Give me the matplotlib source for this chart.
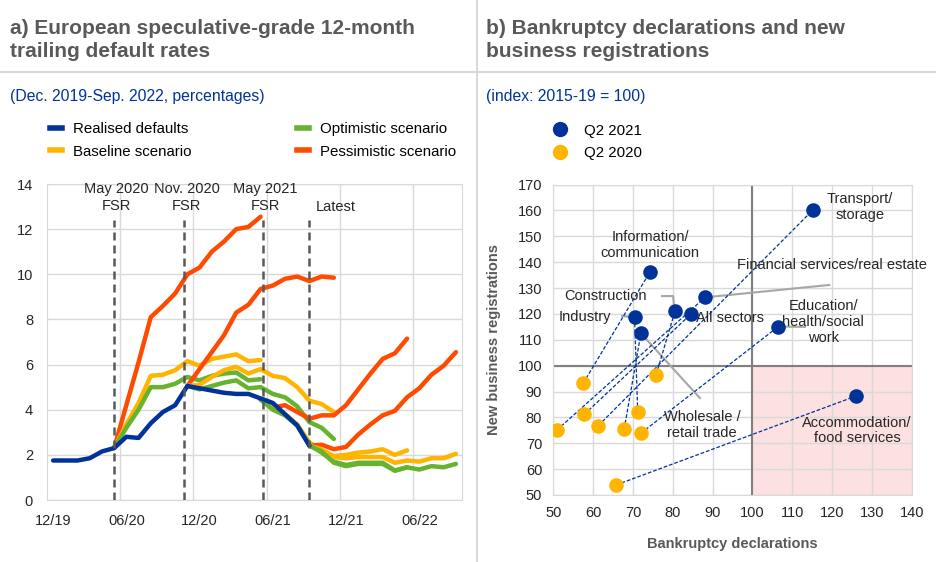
import numpy as np
import pandas as pd
import matplotlib
matplotlib.use("Agg")
import matplotlib.pyplot as plt
from matplotlib.lines import Line2D

plt.rcParams["font.family"] = ["Liberation Sans", "DejaVu Sans"]

# -------------------------------------------------------------
# DATA - panel a) default rates (percentages)
# -------------------------------------------------------------
months = pd.period_range("2019-12", "2022-09", freq="M")

realised = [1.75, 1.75, 1.75, 1.85, 2.15, 2.3, 2.8, 2.75, 3.4, 3.9, 4.2, 5.05,
            4.95, 4.85, 4.75, 4.7, 4.7, 4.5, 4.3, 3.8, 3.3, 2.4]

# projections per FSR vintage, each starting at the given month
may20_start = "2020-05"
may20_base = [2.3, 3.35, 4.3, 5.5, 5.55, 5.75, 6.15, 5.95, 6.25, 6.35, 6.45, 6.15, 6.2]
may20_opt = [2.3, 3.2, 4.0, 5.0, 5.0, 5.15, 5.45, 5.3, 5.5, 5.6, 5.65, 5.3, 5.35]
may20_pess = [2.3, 4.2, 6.1, 8.1, 8.6, 9.15, 10.0, 10.3, 11.0, 11.45, 12.0, 12.1, 12.55]

nov20_start = "2020-11"
nov20_base = [5.05, 5.1, 5.45, 5.75, 5.9, 5.6, 5.8, 5.5, 5.4, 5.0, 4.4, 4.25, 3.9]
nov20_opt = [5.05, 4.9, 5.05, 5.2, 5.3, 4.95, 5.0, 4.7, 4.55, 4.15, 3.45, 3.2, 2.7]
nov20_pess = [5.05, 5.8, 6.55, 7.3, 8.3, 8.65, 9.35, 9.5, 9.8, 9.9, 9.7, 9.9, 9.85]

may21_start = "2021-05"
may21_base = [4.45, 4.05, 3.8, 3.35, 2.55, 2.2, 1.95, 2.0, 2.1, 2.15, 2.25, 2.0, 2.2]
may21_opt = [4.45, 4.0, 3.75, 3.3, 2.45, 2.1, 1.7, 1.55, 1.65, 1.65, 1.65, 1.3, 1.45]
may21_pess = [4.45, 4.1, 4.2, 3.9, 3.6, 3.75, 3.75, 4.2, 4.9, 5.6, 6.25, 6.5, 7.15]

latest_start = "2021-09"
latest_base = [2.4, 2.25, 1.9, 1.85, 1.9, 1.9, 1.9, 1.65, 1.75, 1.7, 1.85, 1.85, 2.05]
latest_opt = [2.4, 2.15, 1.65, 1.5, 1.6, 1.6, 1.6, 1.3, 1.45, 1.35, 1.5, 1.45, 1.6]
latest_pess = [2.4, 2.45, 2.25, 2.35, 2.9, 3.35, 3.75, 3.95, 4.55, 4.95, 5.55, 5.95, 6.55]

event_months = ["2020-05", "2020-11", "2021-05", "2021-09"]
event_labels = ["May 2020\nFSR", "Nov. 2020\nFSR", "May 2021\nFSR", "Latest"]

# -------------------------------------------------------------
# DATA - panel b) index 2015-19 = 100
# -------------------------------------------------------------
sectors = ["Information/\ncommunication", "Construction", "Industry",
           "Wholesale /\nretail trade", "All sectors",
           "Financial services/real estate", "Transport/\nstorage",
           "Education/\nhealth/social\nwork", "Accommodation/\nfood services"]
bankr_q2_2021 = [74.3, 80.6, 70.4, 72.0, 84.6, 88.1, 115.2, 106.5, 126.1]
regis_q2_2021 = [136.3, 121.3, 118.7, 112.5, 120.0, 126.4, 160.2, 115.1, 88.3]
bankr_q2_2020 = [57.5, 75.8, 71.2, 67.8, 57.8, 50.9, 61.3, 72.0, 65.8]
regis_q2_2020 = [93.2, 96.4, 82.2, 75.5, 81.2, 75.1, 76.8, 73.9, 53.9]

# -------------------------------------------------------------
# STYLE
# -------------------------------------------------------------
BLUE = "#003299"
YELLOW = "#ffb400"
GREEN = "#65b32e"
ORANGE = "#ff4b00"
GRID = "#d9d9d9"
TITLE_GREY = "#595959"
TICK = "#262626"

fig = plt.figure(figsize=(9.36, 5.62), dpi=100)

# --- header: titles, separators
title_font = dict(fontsize=15, fontweight="bold", color=TITLE_GREY, va="center",
                  linespacing=1.3)
fig.text(10 / 936, 1 - 40 / 562, "a) European speculative-grade 12-month\ntrailing default rates",
         **title_font)
fig.text(486 / 936, 1 - 40 / 562, "b) Bankruptcy declarations and new\nbusiness registrations",
         **title_font)
sub_font = dict(fontsize=11.3, color=BLUE, va="center")
fig.text(10 / 936, 1 - 97 / 562, "(Dec. 2019-Sep. 2022, percentages)", **sub_font)
fig.text(486 / 936, 1 - 97 / 562, "(index: 2015-19 = 100)", **sub_font)
fig.add_artist(Line2D([0, 1], [1 - 72 / 562] * 2, color=GRID, lw=1.5))
fig.add_artist(Line2D([477 / 936] * 2, [0, 1], color=GRID, lw=1.5))

# -------------------------------------------------------------
# PANEL A
# -------------------------------------------------------------
ax = fig.add_axes([47 / 936, 1 - 500 / 562, 415 / 936, 316 / 562])
x = np.arange(len(months))
pos = {str(m): i for i, m in enumerate(months)}


def draw(values, start, color):
    i0 = pos[start]
    ax.plot(x[i0:i0 + len(values)], values, color=color, lw=3.2,
            solid_capstyle="round", solid_joinstyle="round", zorder=3)


for start, base, opt, pess in [(may20_start, may20_base, may20_opt, may20_pess),
                               (nov20_start, nov20_base, nov20_opt, nov20_pess),
                               (may21_start, may21_base, may21_opt, may21_pess),
                               (latest_start, latest_base, latest_opt, latest_pess)]:
    draw(pess, start, ORANGE)
    draw(base, start, YELLOW)
    draw(opt, start, GREEN)
ax.plot(x[:len(realised)], realised, color=BLUE, lw=3.2,
        solid_capstyle="round", solid_joinstyle="round", zorder=4)

offsets = [0, -0.25, 0.2, 0]
for m, lab, off in zip(event_months, event_labels, offsets):
    xe = pos[m] + off
    ax.vlines(xe, 0, 12.4, color="#595959", lw=1.8, linestyles=(0, (3.2, 2.0)), zorder=5)
    if lab == "Latest":
        ax.text(xe + 0.5, 13.0, lab, ha="left", va="center", fontsize=10.5, color=TICK)
    else:
        ax.text(xe + 0.2, 13.4, lab, ha="center", va="center", fontsize=10.5,
                color=TICK, linespacing=1.35)

ax.set_xlim(-0.5, len(months) - 0.5)
ax.set_ylim(0, 14)
ax.set_yticks(range(0, 15, 2))
ax.set_xticks(x[::6])
ax.set_xticklabels([m.strftime("%m/%y") for m in months[::6]])
ax.set_xticks(np.arange(5.5, len(months), 6), minor=True)
ax.grid(False)
ax.grid(True, which="minor", axis="x", color=GRID, lw=1)
ax.grid(True, which="major", axis="y", color=GRID, lw=1)
ax.tick_params(which="both", length=0, labelsize=10.5, colors=TICK)
ax.tick_params(axis="x", pad=10)
ax.tick_params(axis="y", pad=10)
for s in ax.spines.values():
    s.set_color(GRID)

handles = [Line2D([], [], color=c, lw=4) for c in (BLUE, YELLOW, GREEN, ORANGE)]
names = ["Realised defaults", "Baseline scenario", "Optimistic scenario", "Pessimistic scenario"]
ax.legend(handles, names, ncol=2, loc="lower left", bbox_to_anchor=(0.007, 1.08),
          frameon=False, fontsize=10.8, handlelength=0.8, handletextpad=0.75,
          columnspacing=7.0, labelspacing=0.55, borderaxespad=0, borderpad=0)

# -------------------------------------------------------------
# PANEL B
# -------------------------------------------------------------
bx = fig.add_axes([553.3 / 936, 1 - 495 / 562, 358.4 / 936, 310.4 / 562])
bx.set_axisbelow(True)
bx.add_patch(plt.Rectangle((100, 50), 40, 50, color="#fde0e0", zorder=0.2, lw=0))
bx.axvline(100, color="#808080", lw=1.5, zorder=1)
bx.axhline(100, color="#808080", lw=1.5, zorder=1)

for x0, y0, x1, y1 in zip(bankr_q2_2020, regis_q2_2020, bankr_q2_2021, regis_q2_2021):
    bx.plot([x0, x1], [y0, y1], color=BLUE, lw=0.9, ls=(0, (3, 1.5)), zorder=2)
bx.scatter(bankr_q2_2021, regis_q2_2021, s=110, color=BLUE, zorder=3, lw=0)
bx.scatter(bankr_q2_2020, regis_q2_2020, s=110, color=YELLOW, zorder=3, lw=0)

# sector labels and leader lines
label_pos = [(74.3, 146.7), (63.0, 127.0), (58.0, 118.8), (87.4, 77.1), (94.4, 118.4),
             (120.0, 138.9), (127.0, 161.3), (117.8, 116.9), (126.3, 75.0)]
for name, (lx, ly) in zip(sectors, label_pos):
    bx.text(lx, ly, name, ha="center", va="center", fontsize=10.5, color=TICK,
            linespacing=1.15, zorder=4)
leaders = [([bankr_q2_2021[5], 119.3], [regis_q2_2021[5], 131.2]),
           ([77.3, 80.1, 80.3], [126.9, 126.9, regis_q2_2021[1] + 2]),
           ([67.3, bankr_q2_2021[2]], [119.2, regis_q2_2021[2]]),
           ([bankr_q2_2021[7], 113.2], [regis_q2_2021[7], 115.0]),
           ([bankr_q2_2021[3], 86.8], [regis_q2_2021[3], 87.5])]
for lx, ly in leaders:
    bx.plot(lx, ly, color="#a6a6a6", lw=1.5, zorder=1.5)

bx.set_xlim(50, 140)
bx.set_ylim(50, 170)
bx.set_xticks(range(50, 141, 10))
bx.set_yticks(range(50, 171, 10))
bx.grid(True, color=GRID, lw=1)
bx.tick_params(length=0, labelsize=10.5, colors=TICK)
bx.tick_params(axis="x", pad=8)
bx.tick_params(axis="y", pad=8)
for s in bx.spines.values():
    s.set_color(GRID)
bx.set_xlabel("Bankruptcy declarations", fontsize=10.5, fontweight="bold",
              color=TITLE_GREY, labelpad=12)
bx.set_ylabel("New business registrations", fontsize=10.5, fontweight="bold",
              color=TITLE_GREY, labelpad=12)

mk = [Line2D([], [], marker="o", ls="", color=c, markersize=10) for c in (BLUE, YELLOW)]
bx.legend(mk, ["Q2 2021", "Q2 2020"], loc="lower left", bbox_to_anchor=(-0.022, 1.08),
          frameon=False, fontsize=10.8, handletextpad=0.6, labelspacing=0.55,
          borderaxespad=0, borderpad=0)

fig.savefig("out.png", dpi=100)
